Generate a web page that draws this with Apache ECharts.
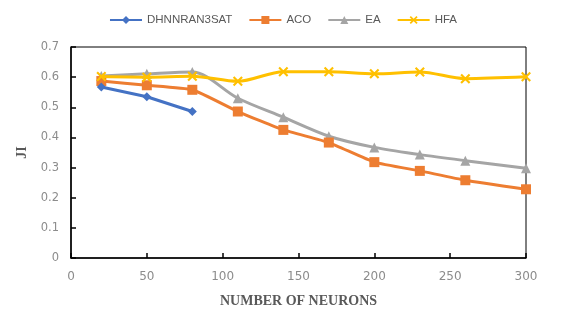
<!DOCTYPE html>
<html><head><meta charset="utf-8">
<script src="https://cdn.jsdelivr.net/npm/echarts@6/dist/echarts.min.js"></script>
<style>html,body{margin:0;padding:0;background:#fff}#c{width:566px;height:313px}</style>
</head><body><div id="c"></div>
<script>
var neurons = [20, 50, 80, 110, 140, 170, 200, 230, 260, 300];
var dhnnValues = [0.567, 0.535, 0.486];
var acoValues = [0.587, 0.573, 0.558, 0.486, 0.425, 0.383, 0.318, 0.289, 0.258, 0.228];
var eaValues = [0.604, 0.611, 0.617, 0.530, 0.467, 0.404, 0.367, 0.343, 0.323, 0.298];
var hfaValues = [0.602, 0.600, 0.603, 0.586, 0.618, 0.618, 0.611, 0.617, 0.595, 0.601];

function pairs(vals){ return vals.map(function(v,i){return [neurons[i], v];}); }
var xSym = 'path://M0,1.5L1.5,0L5,3.5L8.5,0L10,1.5L6.5,5L10,8.5L8.5,10L5,6.5L1.5,10L0,8.5L3.5,5Z';

var chart = echarts.init(document.getElementById('c'));
chart.setOption({
  animation:false,
  textStyle:{fontFamily:'DejaVu Sans'},
  legend:{
    top:9, left:'center', itemWidth:32, itemHeight:10, itemGap:16,
    textStyle:{color:'#595959', fontSize:11.5, fontFamily:'Liberation Sans'},
    data:['DHNNRAN3SAT','ACO','EA','HFA']
  },
  grid:{left:71, right:40, top:47, bottom:52, show:true, borderColor:'#000', borderWidth:1},
  xAxis:{
    type:'value', min:0, max:300, interval:50,
    name:'NUMBER OF NEURONS', nameLocation:'middle', nameGap:36,
    nameTextStyle:{fontFamily:'Liberation Serif', fontWeight:'bold', fontSize:14, color:'#595959'},
    axisLine:{lineStyle:{color:'#000', width:1.5}},
    axisTick:{inside:true, length:5, lineStyle:{color:'#000', width:1.5}},
    splitLine:{show:false},
    axisLabel:{color:'#8c8c8c', fontSize:12, margin:13}
  },
  yAxis:{
    type:'value', min:0, max:0.7, interval:0.1,
    name:'JI', nameLocation:'middle', nameGap:40,
    nameTextStyle:{fontFamily:'Liberation Serif', fontWeight:'bold', fontSize:14, color:'#595959'},
    axisLine:{show:true, lineStyle:{color:'#000', width:1.5}},
    axisTick:{show:true, inside:true, length:5, lineStyle:{color:'#000', width:1.5}},
    splitLine:{show:false},
    axisLabel:{color:'#8c8c8c', fontSize:11.5, margin:12, formatter:function(v){return String(Math.round(v*10)/10);}}
  },
  series:[
    {name:'DHNNRAN3SAT', type:'line', data:pairs(dhnnValues), symbol:'diamond', symbolSize:9,
     lineStyle:{color:'#4472C4', width:3}, itemStyle:{color:'#4472C4'}, z:5},
    {name:'ACO', type:'line', data:pairs(acoValues), symbol:'rect', symbolSize:10, smooth:0.15,
     lineStyle:{color:'#ED7D31', width:3}, itemStyle:{color:'#ED7D31'}, z:3},
    {name:'EA', type:'line', data:pairs(eaValues), symbol:'triangle', symbolSize:10, smooth:0.3,
     lineStyle:{color:'#A5A5A5', width:3}, itemStyle:{color:'#A5A5A5'}, z:2},
    {name:'HFA', type:'line', data:pairs(hfaValues), symbol:xSym, symbolSize:10, smooth:0.3,
     lineStyle:{color:'#FFC000', width:3}, itemStyle:{color:'#FFC000'}, z:4}
  ]
});
</script></body></html>
